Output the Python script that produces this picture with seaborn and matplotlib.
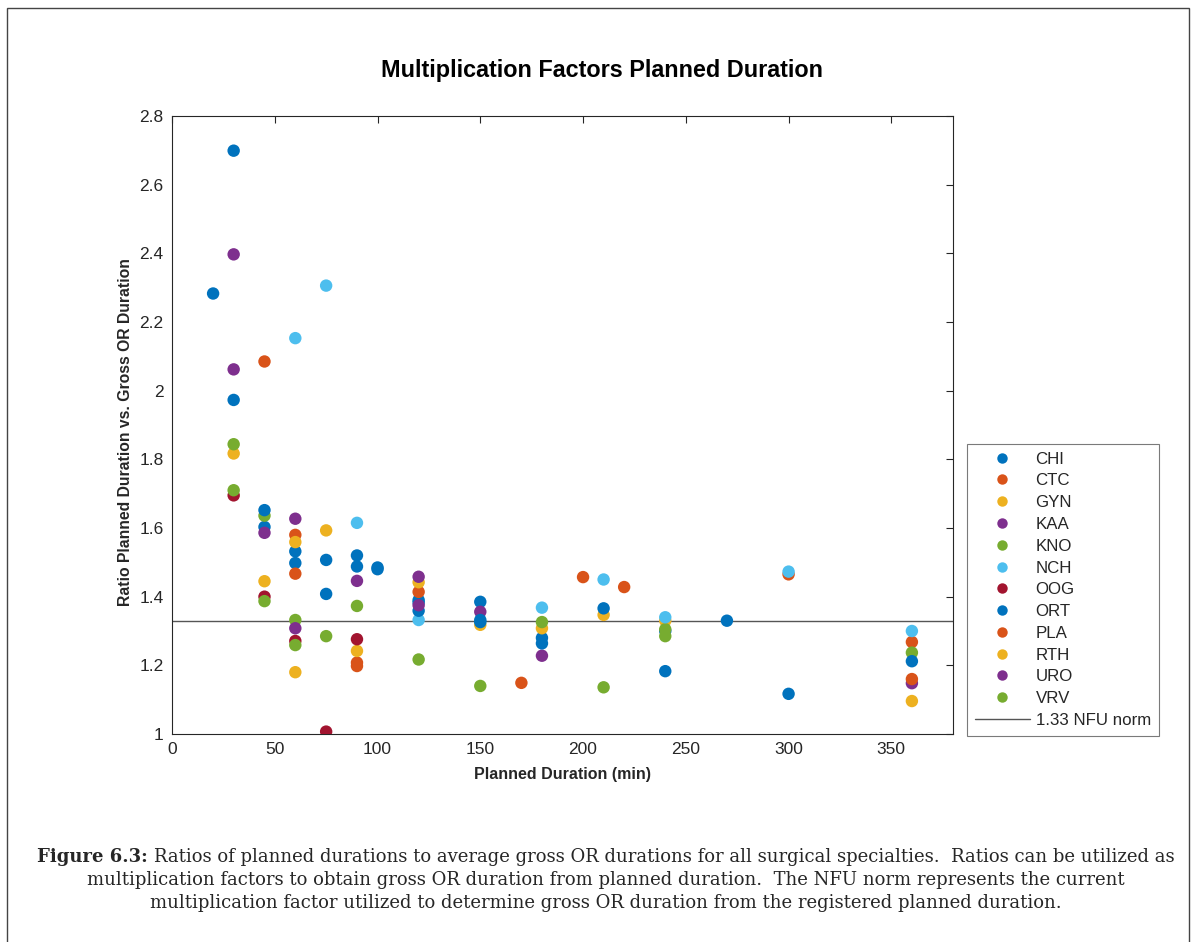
from matplotlib import pyplot as plt
from matplotlib.lines import Line2D
from matplotlib.patches import Rectangle
from matplotlib.ticker import FuncFormatter
import seaborn as sns
import pandas as pd

# specialties and their MATLAB default colours (the cycle repeats after 7)
specialties = ["CHI", "CTC", "GYN", "KAA", "KNO", "NCH", "OOG",
               "ORT", "PLA", "RTH", "URO", "VRV"]
colors = ["#0072BD", "#D95319", "#EDB120", "#7E2F8E", "#77AC30", "#4DBEEE", "#A2142F",
          "#0072BD", "#D95319", "#EDB120", "#7E2F8E", "#77AC30"]

# planned duration (min) and ratio per specialty
chi_x = [20, 30, 45, 60, 75, 90, 100, 120, 120, 150, 180, 240, 300]
chi_y = [2.283, 1.973, 1.603, 1.532, 1.507, 1.520, 1.485, 1.390, 1.383, 1.385, 1.280, 1.300, 1.117]
ctc_x = [45, 60, 90, 120, 170, 200, 300, 360]
ctc_y = [2.085, 1.580, 1.208, 1.414, 1.149, 1.457, 1.465, 1.268]
gyn_x = [30, 45, 60, 75, 90, 120, 150, 180, 210, 240, 360]
gyn_y = [1.817, 1.445, 1.559, 1.593, 1.242, 1.442, 1.318, 1.308, 1.347, 1.330, 1.096]
kaa_x = [30, 45, 60, 90, 120, 150, 180, 360]
kaa_y = [2.397, 1.586, 1.627, 1.446, 1.458, 1.356, 1.228, 1.148]
kno_x = [30, 45, 60, 90, 120, 150, 180, 210, 240, 360]
kno_y = [1.844, 1.636, 1.332, 1.373, 1.217, 1.140, 1.326, 1.136, 1.305, 1.237]
nch_x = [60, 75, 90, 120, 180, 210, 240, 300, 360]
nch_y = [2.153, 2.306, 1.615, 1.332, 1.368, 1.450, 1.340, 1.473, 1.300]
oog_x = [30, 45, 60, 75, 90]
oog_y = [1.695, 1.400, 1.271, 1.007, 1.276]
ort_x = [30, 45, 60, 75, 90, 100, 120, 150, 150, 180, 210, 240, 270, 360]
ort_y = [2.699, 1.652, 1.498, 1.408, 1.488, 1.480, 1.359, 1.332, 1.326, 1.264, 1.366, 1.183, 1.330, 1.212]
pla_x = [60, 90, 220, 360]
pla_y = [1.467, 1.198, 1.428, 1.160]
rth_x = [60]
rth_y = [1.180]
uro_x = [30, 60, 120]
uro_y = [2.062, 1.308, 1.375]
vrv_x = [30, 45, 60, 75, 240]
vrv_y = [1.710, 1.387, 1.259, 1.285, 1.285]

xs = [chi_x, ctc_x, gyn_x, kaa_x, kno_x, nch_x, oog_x, ort_x, pla_x, rth_x, uro_x, vrv_x]
ys = [chi_y, ctc_y, gyn_y, kaa_y, kno_y, nch_y, oog_y, ort_y, pla_y, rth_y, uro_y, vrv_y]

nfu_norm = 1.33
x_ticks = [0, 50, 100, 150, 200, 250, 300, 350]
y_ticks = [1, 1.2, 1.4, 1.6, 1.8, 2, 2.2, 2.4, 2.6, 2.8]

caption_bold = "Figure 6.3: "
caption_lines = [
    "Ratios of planned durations to average gross OR durations for all surgical specialties.  Ratios can be utilized as",
    "multiplication factors to obtain gross OR duration from planned duration.  The NFU norm represents the current",
    "multiplication factor utilized to determine gross OR duration from the registered planned duration.",
]

# long table for seaborn
rows = []
for name, x, y in zip(specialties, xs, ys):
    for a, b in zip(x, y):
        rows.append({"Specialty": name, "Planned": a, "Ratio": b})
df = pd.DataFrame(rows)

sns.set_style("white")
plt.rcParams["font.family"] = ["Liberation Sans", "DejaVu Sans"]

fig = plt.figure(figsize=(11.92, 9.42), dpi=100)
ax = fig.add_axes([172 / 1192, 1 - 734 / 942, 781 / 1192, 618 / 942])

sns.scatterplot(data=df, x="Planned", y="Ratio", hue="Specialty", hue_order=specialties,
                palette=dict(zip(specialties, colors)), s=80, linewidth=0,
                legend=False, ax=ax, zorder=3)
ax.axhline(nfu_norm, color="#555555", linewidth=1.0, zorder=2)

ax.set_xlim(0, 380)
ax.set_ylim(1, 2.8)
ax.set_xticks(x_ticks)
ax.set_yticks(y_ticks)
ax.yaxis.set_major_formatter(FuncFormatter(lambda v, p: "%g" % v))
ax.tick_params(direction="in", length=5, width=0.8, top=True, right=True,
               labelsize=12.5, colors="#262626", pad=6)
for sp in ax.spines.values():
    sp.set_color("#262626")
    sp.set_linewidth(0.8)

ax.set_xlabel("Planned Duration (min)", fontsize=11.5, fontweight="bold", color="#262626")
ax.set_ylabel("Ratio Planned Duration vs. Gross OR Duration", fontsize=11.3,
              fontweight="bold", color="#262626")
ax.xaxis.set_label_coords(0.5, -0.066)
ax.xaxis.label.set_va("center")
ax.yaxis.set_label_coords(-0.060, 0.489)
ax.yaxis.label.set_va("center")

fig.text(602 / 1192, 1 - 70 / 942, "Multiplication Factors Planned Duration",
         fontsize=16.8, fontweight="bold", ha="center", va="center", color="black")

# legend like MATLAB's
handles = [Line2D([], [], marker="o", linestyle="none", markersize=7.5,
                  markerfacecolor=c, markeredgewidth=0) for c in colors]
handles.append(Line2D([], [], color="#555555", linewidth=1.0))
labels = specialties + ["1.33 NFU norm"]
leg = fig.legend(handles, labels, loc="upper left",
                 bbox_to_anchor=(967 / 1192, 1 - 444 / 942),
                 fontsize=12.2, labelspacing=0.40, handlelength=3.25,
                 handletextpad=0.35, borderpad=0.45, fancybox=False, framealpha=1,
                 edgecolor="#7a7a7a", borderaxespad=0)
leg.get_frame().set_linewidth(0.8)

# outer page frame
fig.patches.append(Rectangle((7 / 1192, -0.02), 1182 / 1192, 1.02 - 8 / 942,
                             transform=fig.transFigure, fill=False,
                             edgecolor="#444444", linewidth=1.0))

# caption, first words in bold; size chosen so the first line spans the page
renderer = fig.canvas.get_renderer()
serif = "DejaVu Serif"
probe_b = fig.text(0, 0, caption_bold, fontsize=10, fontweight="bold", family=serif)
probe_r = fig.text(0, 0, caption_lines[0], fontsize=10, family=serif)
w10 = probe_b.get_window_extent(renderer).width + probe_r.get_window_extent(renderer).width
probe_b.remove()
probe_r.remove()
cap_fs = 10 * 1138 / w10

cx = 606
tb = fig.text(0, 0, caption_bold, fontsize=cap_fs, fontweight="bold", family=serif, va="center")
tr = fig.text(0, 0, caption_lines[0], fontsize=cap_fs, family=serif, va="center")
wb = tb.get_window_extent(renderer).width
wr = tr.get_window_extent(renderer).width
x0 = cx - (wb + wr) / 2
tb.set_position((x0 / 1192, 1 - 857 / 942))
tr.set_position(((x0 + wb) / 1192, 1 - 857 / 942))
for i, line in enumerate(caption_lines[1:]):
    fig.text(cx / 1192, 1 - (880 + 22.5 * i) / 942, line, fontsize=cap_fs,
             family=serif, ha="center", va="center")

fig.savefig("out.png", dpi=100)
